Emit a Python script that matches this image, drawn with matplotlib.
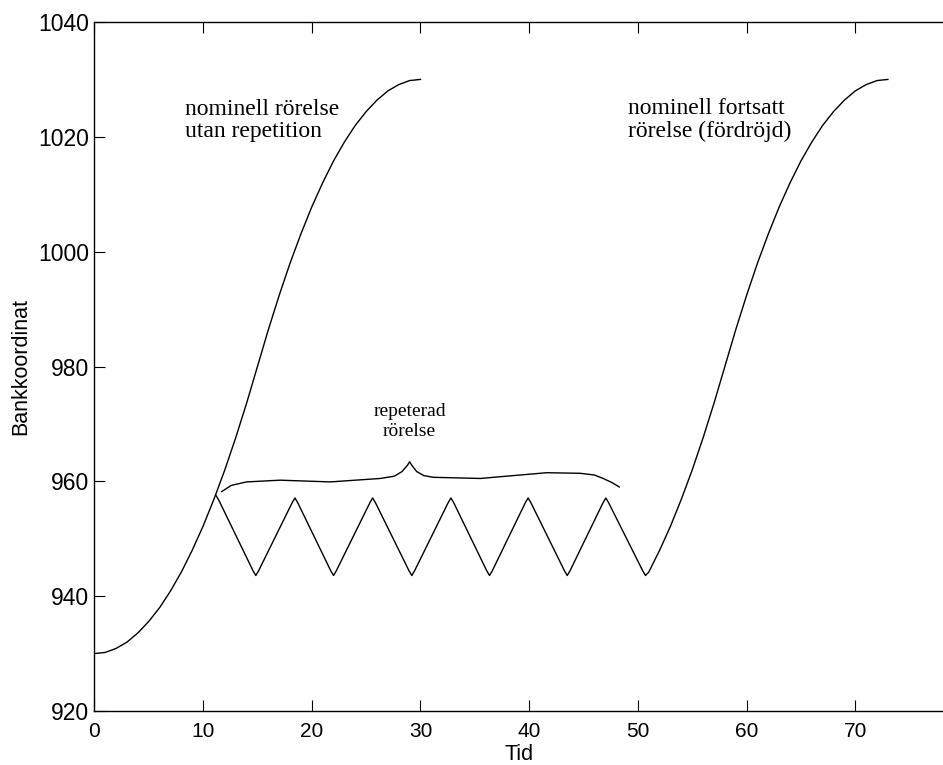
import matplotlib.pyplot as plt

# nominell rörelse utan repetition (avläst)
nom_t = list(range(0, 31))
nom_y = [930.0, 930.2, 930.9, 932.0, 933.6, 935.6, 938.0, 940.9, 944.2, 948.0,
         952.2, 956.9, 962.0, 967.6, 973.6, 980.0, 986.4, 992.4, 998.0, 1003.1,
         1007.8, 1012.0, 1015.8, 1019.1, 1022.0, 1024.4, 1026.4, 1028.0, 1029.1,
         1029.8, 1030.0]

# repeterad rörelse: toppar och dalar med rundade spetsar
rep_t = [11.2, 11.45, 14.6, 14.85, 15.1, 18.2, 18.45, 18.7, 21.75, 22.0, 22.25,
         25.35, 25.6, 25.85, 28.95, 29.2, 29.45, 32.55, 32.8, 33.05, 36.1, 36.35,
         36.6, 39.65, 39.9, 40.15, 43.25, 43.5, 43.75, 46.8, 47.05, 47.3, 50.45, 50.7]
rep_y = [957.5, 956.7, 944.4, 943.6, 944.4, 956.3, 957.1, 956.3, 944.4, 943.6, 944.4,
         956.3, 957.1, 956.3, 944.4, 943.6, 944.4, 956.3, 957.1, 956.3, 944.4, 943.6,
         944.4, 956.3, 957.1, 956.3, 944.4, 943.6, 944.4, 956.3, 957.1, 956.3, 944.4, 943.6]

# nominell fortsatt rörelse (fördröjd)
del_t = list(range(51, 74))
del_y = [944.2, 948.0, 952.2, 956.9, 962.0, 967.6, 973.6, 980.0, 986.4, 992.4,
         998.0, 1003.1, 1007.8, 1012.0, 1015.8, 1019.1, 1022.0, 1024.4, 1026.4,
         1028.0, 1029.1, 1029.8, 1030.0]

# klammern över repetitionen
brace_t = [11.7, 12.6, 14.0, 17.1, 21.7, 26.3, 27.6, 28.3, 28.8, 29.0, 29.2, 29.65,
           30.3, 31.2, 35.5, 41.6, 44.7, 46.0, 46.8, 47.6, 48.3]
brace_y = [958.2, 959.3, 959.9, 960.2, 959.9, 960.5, 960.9, 961.7, 962.8, 963.4,
           962.8, 961.7, 961.0, 960.7, 960.5, 961.5, 961.4, 961.1, 960.5, 959.8, 959.0]

fig = plt.figure(figsize=(9.43, 7.65), dpi=100)
ax = fig.add_axes([94.4 / 943, 54 / 765, (943 - 94.4) / 943, 689 / 765])

lw = 1.0
ax.plot(nom_t, nom_y, color='black', lw=lw)
# repetition och fördröjd rörelse hänger ihop i en linje
ax.plot(rep_t + del_t, rep_y + del_y, color='black', lw=lw, solid_joinstyle='round')
ax.plot(brace_t, brace_y, color='black', lw=lw, solid_capstyle='round')

ax.set_xlim(0, (943 - 94.4) / 10.87)
ax.set_ylim(920, 1040)
ax.set_xticks(range(0, 80, 10))
ax.set_yticks(range(920, 1041, 20))

ax.spines['right'].set_visible(False)
for s in ax.spines.values():
    s.set_linewidth(1.0)
ax.tick_params(direction='in', length=8, width=0.8, top=True)
ax.tick_params(axis='x', labelsize=15, pad=8)
ax.tick_params(axis='y', labelsize=16.5, pad=4)
for lab in ax.get_xticklabels() + ax.get_yticklabels():
    lab.set_family('Liberation Sans')

ax.set_xlabel('Tid', fontsize=15.5, family='Liberation Sans', labelpad=2)
ax.set_ylabel('Bankkoordinat', fontsize=15.5, family='Liberation Sans', labelpad=5)

ax.text(8.3, 1022.9, 'nominell rörelse\nutan repetition', ha='left', va='center',
        linespacing=1.08, family='Liberation Serif', fontsize=17, color='black')
ax.text(49.1, 1022.9, 'nominell fortsatt\nrörelse (fördröjd)', ha='left', va='center',
        linespacing=1.08, family='Liberation Serif', fontsize=17, color='black')
ax.text(29.0, 970.4, 'repeterad\nrörelse', ha='center', va='center',
        linespacing=1.25, family='Liberation Serif', fontsize=14, color='black')

fig.savefig('out.png', dpi=100)
